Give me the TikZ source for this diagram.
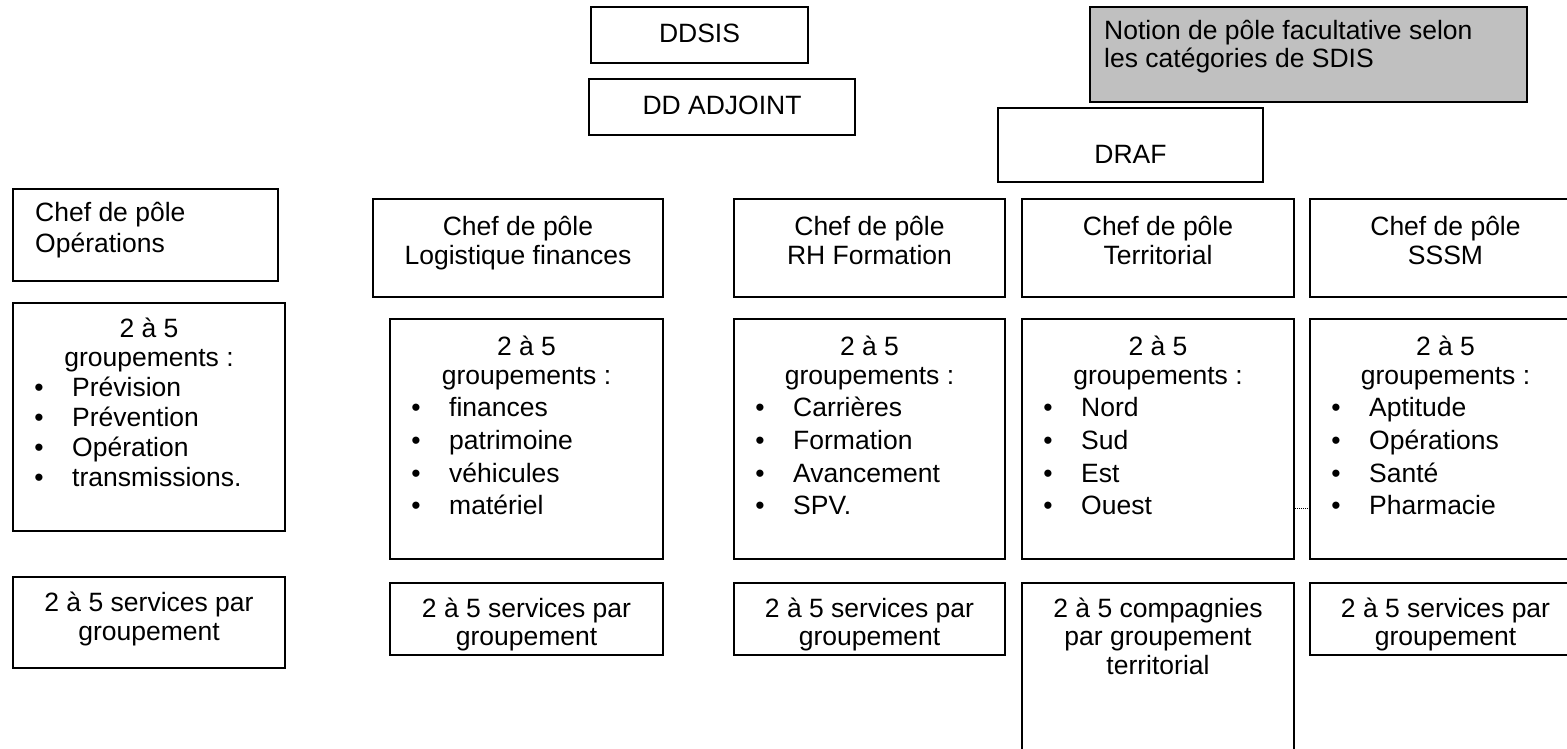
\documentclass[tikz,border=0pt]{standalone}
\usepackage{fontspec}
\setmainfont{Liberation Sans}
\definecolor{notegray}{HTML}{C0C0C0}
\newcommand\bx[6][]{\node[box,#1,minimum width={(#5-#3)*1pt},minimum height={(#6-#4)*1pt}] (#2) at ({(#3+#5)/2},{(#4+#6)/2}) {};}
% #1 prefix, #2 box left, #3 centre x, #4 first baseline, #5 bullet spacing, #6 items
\newcommand\grplist[6]{%
  \node[txt,anchor=base] (#1t1) at (#3,#4) {2 à 5};
  \node[txt,anchor=base] (#1t2) at (#3,#4+29) {groupements :};
  \foreach \itm [count=\i] in {#6}{
    \node[txt,anchor=base] (#1b\i) at (#2+26,#4+29+\i*#5) {•};
    \node[txt,anchor=base west] (#1i\i) at (#2+59,#4+29+\i*#5) {\itm};
  }}
\begin{document}
\begin{tikzpicture}[x=1pt,y=-1pt,
  box/.style={draw,line width=1.8pt,inner sep=0pt},
  txt/.style={inner sep=0pt,font=\fontsize{26.5}{29}\selectfont}]
\useasboundingbox (0,0) rectangle (1567,749);
% boxes
\bx{ddsis}{591}{7}{808}{63}
\bx{ddadj}{589}{79}{855}{135}
\bx[fill=notegray]{note}{1090}{7}{1527}{102}
\bx{draf}{998}{108}{1263}{182}
\bx{cops}{13}{189}{278}{281}
\bx{gops}{13}{303}{285}{531}
\bx{sops}{13}{577}{285}{668}
\bx{clog}{373}{199}{663}{297}
\bx{glog}{390}{319}{663}{559}
\bx{slog}{390}{583}{663}{655}
\bx{crh}{734}{199}{1005}{297}
\bx{grh}{734}{319}{1005}{559}
\bx{srh}{734}{583}{1005}{655}
\bx{cter}{1022}{199}{1294}{297}
\bx{gter}{1022}{319}{1294}{559}
\bx{ster}{1022}{583}{1294}{775}
\bx{csssm}{1310}{199}{1581}{297}
\bx{gsssm}{1310}{319}{1581}{559}
\bx{ssssm}{1310}{583}{1581}{655}
% dotted link
\coordinate (dy) at (0,508);
\draw[densely dotted,line width=1pt] (gter.east |- dy) -- (gsssm.west |- dy);
% top texts
\node[txt,anchor=base] (tddsis) at (699.5,43) {DDSIS};
\node[txt,anchor=base] (tddadj) at (722,115) {DD ADJOINT};
\node[txt,anchor=base west] (tnote1) at (1104,40) {Notion de pôle facultative selon};
\node[txt,anchor=base west] (tnote2) at (1104,68) {les catégories de SDIS};
\node[txt,anchor=base] (tdraf) at (1130.5,164) {DRAF};
% chef texts
\node[txt,anchor=base west] (tcops1) at (35,222) {Chef de pôle};
\node[txt,anchor=base west] (tcops2) at (35,252) {Opérations};
\node[txt,anchor=base] (tclog1) at (518,235) {Chef de pôle};
\node[txt,anchor=base] (tclog2) at (518,264) {Logistique finances};
\node[txt,anchor=base] (tcrh1) at (869.5,235) {Chef de pôle};
\node[txt,anchor=base] (tcrh2) at (869.5,264) {RH Formation};
\node[txt,anchor=base] (tcter1) at (1158,235) {Chef de pôle};
\node[txt,anchor=base] (tcter2) at (1158,264) {Territorial};
\node[txt,anchor=base] (tcsssm1) at (1445.5,235) {Chef de pôle};
\node[txt,anchor=base] (tcsssm2) at (1445.5,264) {SSSM};
% groupement lists
\grplist{ops}{13}{149}{337}{30}{Prévision,Prévention,Opération,transmissions.}
\grplist{log}{390}{526.5}{355}{32.7}{finances,patrimoine,véhicules,matériel}
\grplist{rh}{734}{869.5}{355}{32.7}{Carrières,Formation,Avancement,SPV.}
\grplist{ter}{1022}{1158}{355}{32.7}{Nord,Sud,Est,Ouest}
\grplist{sssm}{1310}{1445.5}{355}{32.7}{Aptitude,Opérations,Santé,Pharmacie}
% service texts
\node[txt,anchor=base] (tsops1) at (149,611) {2 à 5 services par};
\node[txt,anchor=base] (tsops2) at (149,640) {groupement};
\node[txt,anchor=base] (tslog1) at (526.5,617) {2 à 5 services par};
\node[txt,anchor=base] (tslog2) at (526.5,645) {groupement};
\node[txt,anchor=base] (tsrh1) at (869.5,617) {2 à 5 services par};
\node[txt,anchor=base] (tsrh2) at (869.5,645) {groupement};
\node[txt,anchor=base] (tster1) at (1158,617) {2 à 5 compagnies};
\node[txt,anchor=base] (tster2) at (1158,645) {par groupement};
\node[txt,anchor=base] (tster3) at (1158,674) {territorial};
\node[txt,anchor=base] (tssssm1) at (1445.5,617) {2 à 5 services par};
\node[txt,anchor=base] (tssssm2) at (1445.5,645) {groupement};
\end{tikzpicture}
\end{document}
